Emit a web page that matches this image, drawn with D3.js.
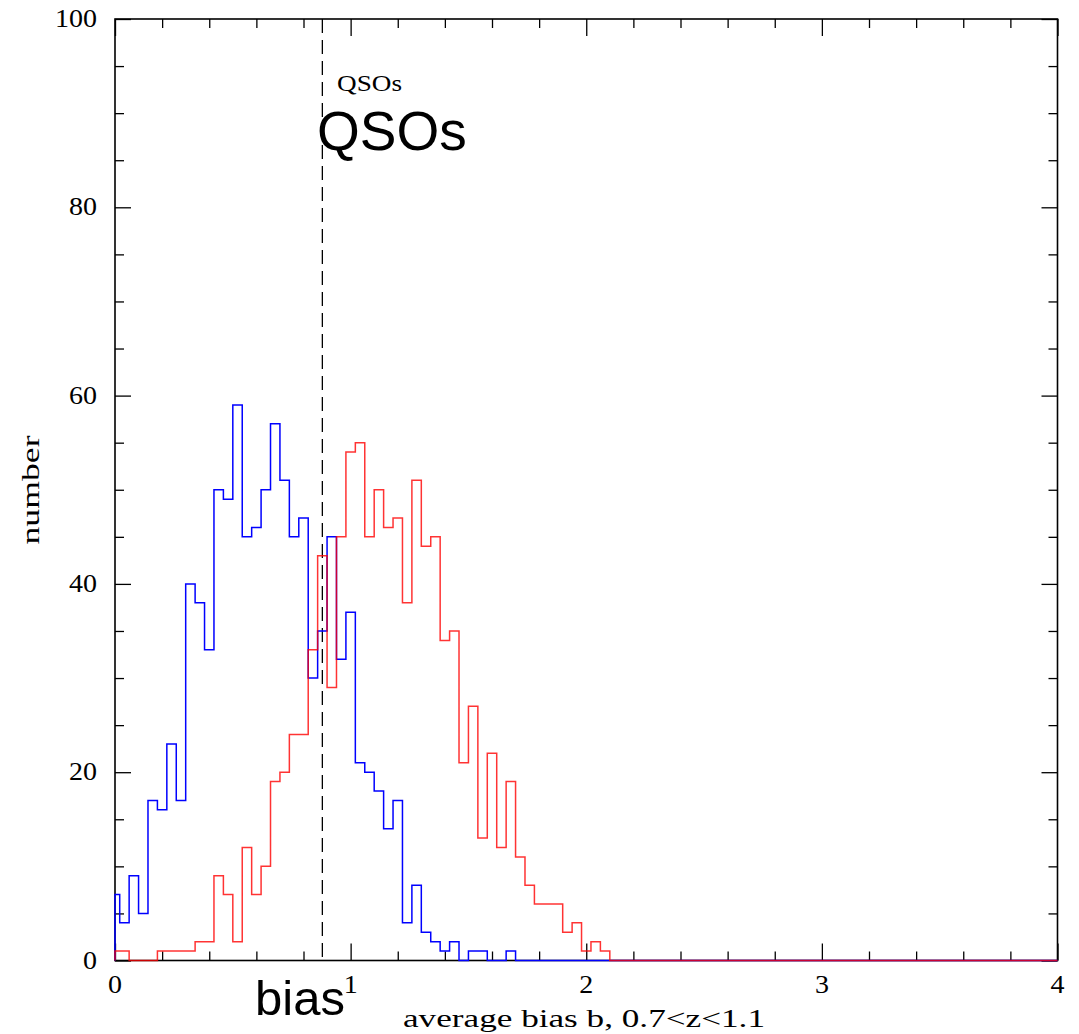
<!DOCTYPE html>
<html>
<head>
<meta charset="utf-8">
<script src="https://cdn.jsdelivr.net/npm/d3@7"></script>
<style>
    body { margin: 0; background: #fff; }
    svg { display: block; }
    .serif { font-family: "Liberation Serif", "DejaVu Serif", serif; fill: #000; }
    .sans { font-family: "Liberation Sans", Arial, sans-serif; fill: #000; }
</style>
</head>
<body>
<svg id="graph" width="1079" height="1034"></svg>
<script>
// histogram counts, one value per bin of width 0.04 centred on 0, 0.04, 0.08 ...
// (bins past the end of each list are empty)
const blue_counts = [7, 4, 9, 5, 17, 16, 23, 17, 40, 38, 33, 50, 49, 59, 45, 46, 50, 57, 51, 45,
    47, 30, 35, 45, 32, 37, 21, 20, 18, 14, 17, 4, 8, 3, 2, 1, 2, 0, 1, 1, 0, 0, 1];
const red_counts = [1, 1, 0, 0, 0, 1, 1, 1, 1, 2, 2, 9, 7, 2, 12, 7, 10, 19, 20, 24,
    24, 33, 43, 29, 45, 54, 55, 45, 50, 46, 47, 38, 51, 44, 45, 34, 35, 21, 27, 13,
    22, 12, 19, 11, 8, 6, 6, 6, 3, 4, 1, 2, 1];
const bin_width = 0.04;
const x_major = [0, 1, 2, 3, 4];
const y_major = [0, 20, 40, 60, 80, 100];
const b_mark = 0.88;

const svg = d3.select("#graph");
const pl = 115, pr = 1057.5, pt = 19, pb = 960.5;

const x = d3.scaleLinear().domain([0, 4]).range([pl, pr]);
const y = d3.scaleLinear().domain([0, 100]).range([pb, pt]);

// frame
svg.append("rect")
    .attr("x", pl)
    .attr("y", pt)
    .attr("width", pr - pl)
    .attr("height", pb - pt)
    .attr("fill", "none")
    .attr("stroke", "#000")
    .attr("stroke-width", 1.6);

const x_minor = d3.range(0, 4.001, 0.2).filter((v) => Math.abs(v - Math.round(v)) > 1e-6);
const y_minor = d3.range(0, 100.1, 5).filter((v) => v % 20 !== 0);

function tick_axis(axis, transform) {
    const g = svg.append("g").attr("transform", transform).call(axis);
    g.select(".domain").remove();
    g.selectAll("line").attr("stroke", "#000").attr("stroke-width", 1.3);
    g.selectAll("text").remove();
    return g;
}

// ticks on all four sides, pointing inward
tick_axis(d3.axisBottom(x).tickValues(x_major).tickSizeInner(-17).tickSizeOuter(0), `translate(0,${pb})`);
tick_axis(d3.axisBottom(x).tickValues(x_minor).tickSizeInner(-9).tickSizeOuter(0), `translate(0,${pb})`);
tick_axis(d3.axisTop(x).tickValues(x_major).tickSizeInner(-17).tickSizeOuter(0), `translate(0,${pt})`);
tick_axis(d3.axisTop(x).tickValues(x_minor).tickSizeInner(-9).tickSizeOuter(0), `translate(0,${pt})`);
tick_axis(d3.axisLeft(y).tickValues(y_major).tickSizeInner(-16).tickSizeOuter(0), `translate(${pl},0)`);
tick_axis(d3.axisLeft(y).tickValues(y_minor).tickSizeInner(-9).tickSizeOuter(0), `translate(${pl},0)`);
tick_axis(d3.axisRight(y).tickValues(y_major).tickSizeInner(-16).tickSizeOuter(0), `translate(${pr},0)`);
tick_axis(d3.axisRight(y).tickValues(y_minor).tickSizeInner(-9).tickSizeOuter(0), `translate(${pr},0)`);

// tick labels
svg.append("g").selectAll("text")
    .data(x_major)
    .join("text")
    .attr("class", "serif")
    .attr("x", (d) => x(d))
    .attr("y", 993)
    .attr("text-anchor", "middle")
    .attr("font-size", 25)
    .attr("textLength", 14)
    .attr("lengthAdjust", "spacingAndGlyphs")
    .text((d) => d);

svg.append("g").selectAll("text")
    .data(y_major)
    .join("text")
    .attr("class", "serif")
    .attr("x", 97)
    .attr("y", (d) => y(d) + 8)
    .attr("text-anchor", "end")
    .attr("font-size", 25)
    .attr("textLength", (d) => String(d).length * 14)
    .attr("lengthAdjust", "spacingAndGlyphs")
    .text((d) => d);

// axis titles
svg.append("text")
    .attr("class", "serif")
    .attr("transform", "translate(39,490) rotate(-90)")
    .attr("text-anchor", "middle")
    .attr("font-size", 26)
    .attr("textLength", 109)
    .attr("lengthAdjust", "spacingAndGlyphs")
    .text("number");

svg.append("text")
    .attr("class", "serif")
    .attr("x", 403)
    .attr("y", 1027)
    .attr("font-size", 25)
    .attr("textLength", 362)
    .attr("lengthAdjust", "spacingAndGlyphs")
    .text("average bias b, 0.7<z<1.1");

// dashed marker
svg.append("line")
    .attr("x1", x(b_mark))
    .attr("x2", x(b_mark))
    .attr("y1", pt)
    .attr("y2", pb)
    .attr("stroke", "#000")
    .attr("stroke-width", 1.3)
    .attr("stroke-dasharray", "14,7");

// step histograms
function hist_points(counts) {
    const pts = [[0, 0], [0, counts[0]]];
    for (let i = 1; i < counts.length; i++) {
        pts.push([i * bin_width - bin_width / 2, counts[i]]);
    }
    pts.push([counts.length * bin_width - bin_width / 2, 0]);
    pts.push([4, 0]);
    return pts;
}

const step = d3.line()
    .x((d) => x(d[0]))
    .y((d) => y(d[1]))
    .curve(d3.curveStepAfter);

svg.append("path")
    .attr("d", step(hist_points(blue_counts)))
    .attr("fill", "none")
    .attr("stroke", "#0000ff")
    .attr("stroke-width", 1.5);

svg.append("path")
    .attr("d", step(hist_points(red_counts)))
    .attr("fill", "none")
    .attr("stroke", "#ff0000")
    .attr("stroke-opacity", 0.8)
    .attr("stroke-width", 1.5);

// labels
svg.append("text")
    .attr("class", "serif")
    .attr("x", 337)
    .attr("y", 91)
    .attr("font-size", 24)
    .attr("textLength", 65)
    .attr("lengthAdjust", "spacingAndGlyphs")
    .text("QSOs");

svg.append("text")
    .attr("class", "sans")
    .attr("x", 317)
    .attr("y", 150)
    .attr("font-size", 55)
    .text("QSOs");

svg.append("text")
    .attr("class", "sans")
    .attr("x", 255)
    .attr("y", 1015)
    .attr("font-size", 49)
    .text("bias");
</script>
</body>
</html>
